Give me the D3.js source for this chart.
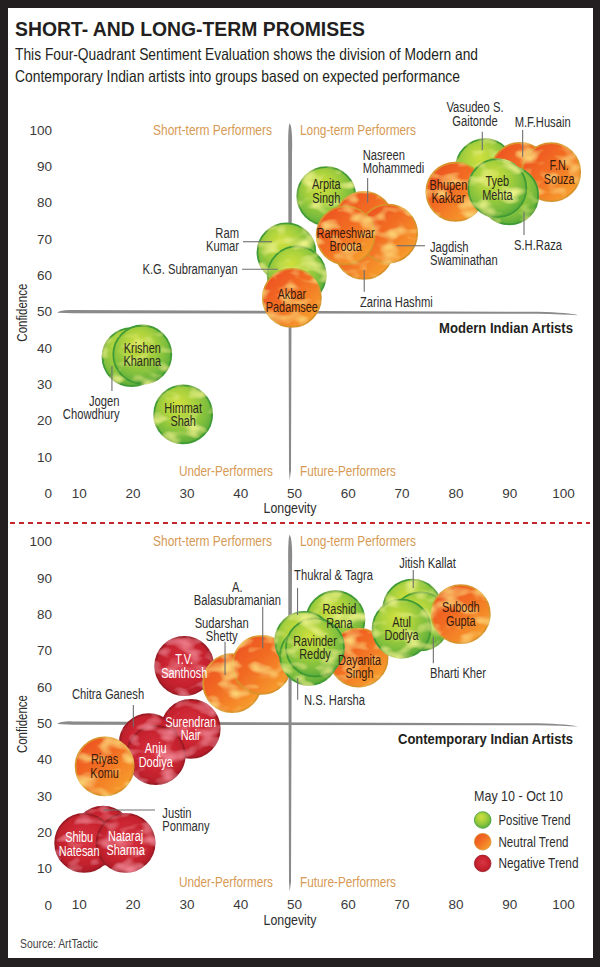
<!DOCTYPE html>
<html><head><meta charset="utf-8">
<script src="https://cdn.jsdelivr.net/npm/d3@7"></script>
<style>
html,body{margin:0;padding:0;background:#231f20;}
svg{display:block;}
text{font-family:"Liberation Sans",Arial,sans-serif;}
</style></head><body>
<svg id="c" width="600" height="967"></svg>
<script>
// ---------------- DATA ----------------
const titleText = "SHORT- AND LONG-TERM PROMISES";
const subtitleLines = ["This Four-Quadrant Sentiment Evaluation shows the division of Modern and",
  "Contemporary Indian artists into groups based on expected performance"];
const yTicks = [0,10,20,30,40,50,60,70,80,90,100];
const xTicks = [10,20,30,40,50,60,70,80,90,100];
const quadrantLabels = ["Short-term Performers","Long-term Performers","Under-Performers","Future-Performers"];
const quadrantSplit = 50;

const modernNames = ["Jogen\nChowdhury","Krishen\nKhanna","Himmat\nShah","Ram\nKumar","K.G. Subramanyan","Akbar\nPadamsee",
  "Arpita\nSingh","Nasreen\nMohammedi","Zarina Hashmi","Jagdish\nSwaminathan","Rameshwar\nBroota",
  "Vasudeo S.\nGaitonde","M.F.Husain","F.N.\nSouza","Bhupen\nKakkar","S.H.Raza","Tyeb\nMehta"];
const modernLongevity  = [19.8,21.8,29.4,48.6,50.5,49.6,56,63,63,67.5,59.6,85.5,92,97.8,80,90,87.8];
const modernConfidence = [37.5,38.2,21.7,66.3,60,53.8,81.8,75,67,71.5,71,89.5,88.5,88.4,83,82,84];
const modernTrend = ["positive","positive","positive","positive","positive","neutral","positive","neutral","neutral",
  "neutral","neutral","positive","neutral","neutral","neutral","positive","positive"];

const contemporaryNames = ["Justin\nPonmany","Shibu\nNatesan","Nataraj\nSharma","Surendran\nNair","Chitra Ganesh","Anju\nDodiya",
  "Riyas\nKomu","T.V.\nSanthosh","Sudarshan\nShetty","A.\nBalasubramanian","Rashid\nRana","Dayanita\nSingh",
  "Thukral & Tagra","N.S. Harsha","Ravinder\nReddy","Jitish Kallat","Bharti Kher","Subodh\nGupta","Atul\nDodiya"];
const contemporaryLongevity  = [14.5,11,18.7,30.8,23,24.3,14.8,29.6,38.5,44,57.7,62,51.9,52.8,53.9,72,73.5,81,70];
const contemporaryConfidence = [19,17,17,48.4,44.5,41.2,38.1,65.7,61,66,78.3,68,72.6,68.5,70.8,81.5,78,80,76];
const contemporaryTrend = ["negative","negative","negative","negative","negative","negative","neutral","negative","neutral",
  "neutral","positive","neutral","positive","positive","positive","positive","positive","neutral","positive"];

const legendTitle = "May 10 - Oct 10";
const trendKeys = ["positive","neutral","negative"];
const trendLabels = ["Positive Trend","Neutral Trend","Negative Trend"];
const panelTitles = ["Modern Indian Artists","Contemporary Indian Artists"];
const axisTitles = ["Longevity","Confidence"];
const sourceText = "Source: ArtTactic";

// --------------- LAYOUT (label offsets relative to bubble centre) ---------------
const annotationLayout = {
  "Jogen\nChowdhury":   {anchor:"end",   tx:-12, ty:44,  leader:[-19.6,9,-19.6,34]},
  "Ram\nKumar":         {anchor:"end",   tx:-47.5, ty:-19.4, leader:[-43.5,-10.7,-14.5,-10.7]},
  "K.G. Subramanyan":   {anchor:"end",   tx:-59, ty:-6,  leader:[-54.7,-6,-18.7,-6]},
  "Nasreen\nMohammedi": {anchor:"start", tx:-1.3, ty:-65.8, leader:[3.7,-42.8,3.7,-18]},
  "Jagdish\nSwaminathan":{anchor:"start",tx:41.8, ty:13.2, leader:[8.5,12.2,36.8,12.2]},
  "Zarina Hashmi":      {anchor:"start", tx:-4, ty:51.8, leader:[0.3,20,0.3,41.8]},
  "Vasudeo S.\nGaitonde":{anchor:"middle",tx:-10, ty:-60.8, leader:[-2.7,-36.4,-2.7,-18]},
  "M.F.Husain":         {anchor:"middle",tx:22.7, ty:-50, leader:[2.7,-41.8,2.7,-15]},
  "S.H.Raza":           {anchor:"middle",tx:28.8, ty:49.6, leader:[14.8,16.3,14.8,39.6]},
  "Thukral & Tagra":    {anchor:"start", tx:-10.1, ty:-66, leader:[-6.7,-53,-6.7,-26]},
  "N.S. Harsha":        {anchor:"start", tx:-5.1, ty:44.2, leader:[-11.4,22.2,-11.4,44]},
  "Jitish Kallat":      {anchor:"middle",tx:15.1, ty:-45.3, leader:[0.9,-38.6,0.9,-20.6]},
  "Bharti Kher":        {anchor:"start", tx:9.6, ty:52, leader:[12.9,15.4,12.9,42]},
  "A.\nBalasubramanian":{anchor:"middle",tx:-24.4, ty:-78.2, leader:[1,-58.2,1,-16.6]},
  "Sudarshan\nShetty":  {anchor:"middle",tx:-10.4, ty:-60.4, leader:[-7.1,-41.4,-7.1,-8.1]},
  "Chitra Ganesh":      {anchor:"middle",tx:-40.7, ty:-48.7, leader:[-15.4,-38,-15.4,-16.3]},
  "Justin\nPonmany":    {anchor:"start", tx:59.3, ty:-23, leader:[0.3,-25.7,52,-25.7]}
};
const insideLabelShift = {
  "Bhupen\nKakkar":[-7,0], "F.N.\nSouza":[8,0], "Arpita\nSingh":[0,-5], "Rameshwar\nBroota":[0,4],
  "Akbar\nPadamsee":[0,2.5], "Dayanita\nSingh":[1,9], "Shibu\nNatesan":[-5,1], "Rashid\nRana":[4,-4]
};

// ---------------- HELPERS ----------------
const svg = d3.select("#c");
function addText(parent, x, y, str, o){
  o = o || {};
  const t = parent.append("text").attr("x",x).attr("y",y).attr("dy","0.35em")
    .attr("text-anchor",o.anchor||"start").style("font-size",(o.size||14)+"px")
    .attr("fill",o.fill||"#2e2e2e").text(str);
  if(o.bold) t.style("font-weight","bold");
  if(o.transform) t.attr("transform",o.transform);
  const w = t.node().getComputedTextLength();
  const target = o.width ? o.width : w*(o.factor==null?0.8:o.factor);
  if(Math.abs(target-w)>0.3) t.attr("textLength",target).attr("lengthAdjust","spacingAndGlyphs");
  return t;
}

svg.append("rect").attr("x",0).attr("y",0).attr("width",600).attr("height",967).attr("fill","#231f20");
svg.append("rect").attr("x",8).attr("y",8).attr("width",585).attr("height",950).attr("fill","#ffffff");

const defs = svg.append("defs");
const gPos = defs.append("radialGradient").attr("id","g-positive").attr("cx","45%").attr("cy","40%").attr("r","60%").attr("fx","40%").attr("fy","30%");
[["0%","#cfe03e"],["45%","#a9d13c"],["80%","#7dbe3d"],["100%","#5aac38"]].forEach(s=>gPos.append("stop").attr("offset",s[0]).attr("stop-color",s[1]));
const gNeu = defs.append("linearGradient").attr("id","g-neutral").attr("x1","0").attr("y1","0").attr("x2","1").attr("y2","1");
[["0%","#ec4a23"],["45%","#f26d24"],["75%","#f5902a"],["100%","#f9ad35"]].forEach(s=>gNeu.append("stop").attr("offset",s[0]).attr("stop-color",s[1]));
const gNeg = defs.append("radialGradient").attr("id","g-negative").attr("cx","50%").attr("cy","45%").attr("r","60%");
[["0%","#d83442"],["60%","#c8232f"],["100%","#ad1b28"]].forEach(s=>gNeg.append("stop").attr("offset",s[0]).attr("stop-color",s[1]));
// painterly texture filters
const spot = {positive:[0.86,0.9,0.25], neutral:[0.98,0.68,0.18], negative:[0.88,0.22,0.28]};
Object.keys(spot).forEach(k=>{
  const c = spot[k];
  const f = defs.append("filter").attr("id","tex-"+k).attr("x","-5%").attr("y","-5%").attr("width","110%").attr("height","110%");
  f.append("feTurbulence").attr("type","fractalNoise").attr("baseFrequency","0.05 0.08").attr("numOctaves",2).attr("seed",k.length*7).attr("result","noise");
  f.append("feColorMatrix").attr("in","noise").attr("type","matrix")
    .attr("values",`0 0 0 0 ${c[0]}  0 0 0 0 ${c[1]}  0 0 0 0 ${c[2]}  2.6 0 0 0 -1.25`).attr("result","spots");
  f.append("feComposite").attr("in","spots").attr("in2","SourceGraphic").attr("operator","in").attr("result","tex");
  const m = f.append("feMerge");
  m.append("feMergeNode").attr("in","SourceGraphic");
  m.append("feMergeNode").attr("in","tex");
});
const strokeColor = {positive:"#3f9b36", neutral:"#d9922c", negative:"#9b1a24"};
const textColor = {positive:"#2a2a1e", neutral:"#3a1a0c", negative:"#ffffff"};

const inkColor = "#2e2e2e";
const quadColor = "#d69a55";

// title
svg.append("text").attr("x",15).attr("y",36).text(titleText)
  .style("font-weight","bold").style("font-size","21px")
  .attr("fill","#231f20").attr("textLength",350).attr("lengthAdjust","spacingAndGlyphs");
subtitleLines.forEach((t,i)=>{
  svg.append("text").attr("x",15).attr("y",59.5+i*22).text(t)
    .style("font-size","16.5px").attr("fill","#231f20")
    .attr("textLength", i===0?463:445).attr("lengthAdjust","spacingAndGlyphs");
});

// dashed separator
svg.append("line").attr("x1",10).attr("x2",590).attr("y1",523).attr("y2",523)
  .attr("stroke","#c1272d").attr("stroke-width",2).attr("stroke-dasharray","5,4");

const x = d3.scaleLinear().domain([0,100]).range([25,563]);

function brushH(g, x0, x1, y){
  const p = d3.path();
  p.moveTo(x0, y+1);
  p.quadraticCurveTo(x0+4, y-2.2, x0+16, y-1.6);
  p.lineTo(x1-40, y+0.2);
  p.quadraticCurveTo(x1-8, y+1.2, x1, y+3.5);
  p.quadraticCurveTo(x1-15, y+2.8, x1-40, y+2.2);
  p.lineTo(x0+16, y+1.6);
  p.closePath();
  g.append("path").attr("d",p.toString()).attr("fill","#8a8a8a");
}
function brushV(g, x0, y0, y1){
  const p = d3.path();
  p.moveTo(x0-0.5, y0);
  p.quadraticCurveTo(x0+2.8, y0+4, x0+2, y0+30);
  p.lineTo(x0+1, y1-10);
  p.lineTo(x0-0.3, y1);
  p.lineTo(x0-1, y1-10);
  p.lineTo(x0-1.8, y0+30);
  p.quadraticCurveTo(x0-2.2, y0+6, x0-0.5, y0);
  p.closePath();
  g.append("path").attr("d",p.toString()).attr("fill","#8a8a8a");
}

function drawPanel(y, names, lon, conf, trend, panelTitle, titleWidth){
  const g = svg.append("g");
  const xm = x(quadrantSplit) - 4, ym = y(quadrantSplit);
  brushV(g, xm, y(100)-7, y(0)-13);
  brushH(g, 57, 578, ym);

  addText(g, xm-18, y(100), quadrantLabels[0], {anchor:"end", size:14.5, fill:quadColor, width:119});
  addText(g, xm+10, y(100), quadrantLabels[1], {anchor:"start", size:14.5, fill:quadColor, width:116});
  addText(g, xm-17, y(0)-22.5, quadrantLabels[2], {anchor:"end", size:14.5, fill:quadColor, width:94});
  addText(g, xm+10, y(0)-22.5, quadrantLabels[3], {anchor:"start", size:14.5, fill:quadColor, width:96});

  const ya = g.append("g").attr("transform","translate(52,0)")
    .call(d3.axisLeft(y).tickValues(yTicks).tickSize(0).tickPadding(0).tickFormat(d3.format("d")));
  ya.select(".domain").remove();
  ya.selectAll("text").style("font-size","13.5px").style("font-family","'Liberation Sans',Arial,sans-serif").attr("fill","#3a3a3a");
  const xa = g.append("g").attr("transform",`translate(0,${y(0)})`)
    .call(d3.axisBottom(x).tickValues(xTicks).tickSize(0).tickPadding(0).tickFormat(d3.format("d")));
  xa.select(".domain").remove();
  xa.selectAll("text").attr("y",0).attr("dy","0.35em").style("font-size","13.5px")
    .style("font-family","'Liberation Sans',Arial,sans-serif").attr("fill","#3a3a3a");

  addText(g, 290, y(0)+15, axisTitles[0], {anchor:"middle", size:14.5, width:53});
  addText(g, 0, 0, axisTitles[1], {anchor:"middle", size:14.5, width:58, transform:`translate(22,${y(50)+1}) rotate(-90)`});

  addText(g, 573, y(50)+16, panelTitle, {anchor:"end", size:15, bold:true, fill:"#231f20", width:titleWidth});

  const data = names.map((n,i)=>({name:n, lon:lon[i], conf:conf[i], trend:trend[i]}));
  const r = 29;

  const ann = g.append("g");
  data.forEach(d=>{
    const L = annotationLayout[d.name];
    if(!L) return;
    const cx = x(d.lon), cy = y(d.conf);
    d.name.split("\n").forEach((ln,k)=> addText(ann, cx+L.tx, cy+L.ty+k*13.4, ln, {anchor:L.anchor, size:14, factor:0.8}));
  });

  const bubbles = g.append("g");
  bubbles.selectAll("circle").data(data).join("circle")
    .attr("cx",d=>x(d.lon)).attr("cy",d=>y(d.conf)).attr("r",r)
    .attr("fill",d=>`url(#g-${d.trend})`).attr("filter",d=>`url(#tex-${d.trend})`)
    .attr("stroke",d=>strokeColor[d.trend]).attr("stroke-width",1.8);

  // leader lines
  data.forEach(d=>{
    const L = annotationLayout[d.name];
    if(!L) return;
    const cx = x(d.lon), cy = y(d.conf);
    g.append("line").attr("x1",cx+L.leader[0]).attr("y1",cy+L.leader[1]).attr("x2",cx+L.leader[2]).attr("y2",cy+L.leader[3])
      .attr("stroke","#6e6e6e").attr("stroke-width",1.1);
  });

  // inside labels on top of all bubbles
  const lab = g.append("g");
  data.forEach(d=>{
    if(annotationLayout[d.name]) return;
    const s = insideLabelShift[d.name] || [0,0];
    const cx = x(d.lon)+s[0], cy = y(d.conf)+s[1];
    const lines = d.name.split("\n");
    lines.forEach((ln,k)=> addText(lab, cx, cy + (k-(lines.length-1)/2)*13.4, ln,
      {anchor:"middle", size:14, factor:0.78, fill:textColor[d.trend]}));
  });
  return g;
}

const yTop = d3.scaleLinear().domain([0,100]).range([493.3,130]);
const yBot = d3.scaleLinear().domain([0,100]).range([904.7,541.4]);
drawPanel(yTop, modernNames, modernLongevity, modernConfidence, modernTrend, panelTitles[0], 134);
drawPanel(yBot, contemporaryNames, contemporaryLongevity, contemporaryConfidence, contemporaryTrend, panelTitles[1], 175);

// legend
const lg = svg.append("g");
addText(lg, 474, 796, legendTitle, {size:15, width:89});
const legendWidths = [72, 70, 80];
trendKeys.forEach((k,i)=>{
  lg.append("circle").attr("cx",482.7).attr("cy",820+i*21.7).attr("r",8.3)
    .attr("fill",`url(#g-${k})`).attr("stroke",strokeColor[k]).attr("stroke-width",0.8);
  addText(lg, 498.5, 820+i*21.7, trendLabels[i], {size:14.5, width:legendWidths[i]});
});

addText(svg, 20, 943, sourceText, {size:13, fill:"#444", width:78});
</script>
</body></html>
